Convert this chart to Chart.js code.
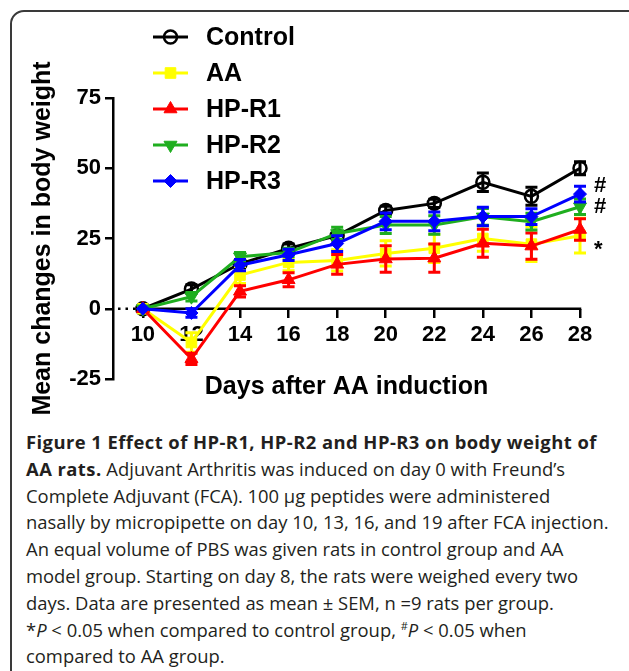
<!DOCTYPE html>
<html>
<head>
<meta charset="utf-8">
<script src="https://cdn.jsdelivr.net/npm/chart.js@4.4.1/dist/chart.umd.min.js"></script>
<style>
  html, body { margin: 0; padding: 0; background: #fff; }
  body { width: 629px; height: 671px; overflow: hidden; position: relative; }
  #frame { position: absolute; left: 10px; top: 10px; width: 700px; height: 800px; border: 2px solid #3a3a3a; border-radius: 14px; }
  #myChart { position: absolute; left: 0; top: 0; }
  #caption { position: absolute; left: 26px; top: 429px; font-family: 'Open Sans', sans-serif; font-size: 18.4px; line-height: 26.8px; color: #231f20; white-space: nowrap; }
  #caption b { font-weight: 700; letter-spacing: 0.45px; }
  #caption .hash { font-size: 11px; position: relative; top: -7px; line-height: 0; }
</style>
</head>
<body>
<div id="frame"></div>
<canvas id="myChart" width="629" height="420"></canvas>
<div id="caption">
<b>Figure 1 Effect of HP-R1, HP-R2 and HP-R3 on body weight of</b><br>
<b>AA rats.</b> Adjuvant Arthritis was induced on day 0 with Freund’s<br>
Complete Adjuvant (FCA). 100 μg peptides were administered<br>
nasally by micropipette on day 10, 13, 16, and 19 after FCA injection.<br>
An equal volume of PBS was given rats in control group and AA<br>
model group. Starting on day 8, the rats were weighed every two<br>
days. Data are presented as mean ± SEM, n =9 rats per group.<br>
*<i>P</i> &lt; 0.05 when compared to control group, <span class="hash">#</span><i>P</i> &lt; 0.05 when<br>
compared to AA group.
</div>
<script>
// data (mean change in body weight, +/- SEM)
const days = [10, 12, 14, 16, 18, 20, 22, 24, 26, 28];

const control = [0, 7, 16, 21.5, 26, 35, 37.5, 45, 40, 50];
const controlSem = [0, 1.5, 1.5, 1.5, 1.5, 1.5, 1.5, 3.3, 3.2, 2.3];

const aa = [0, -12, 12, 16.5, 17.2, 19.7, 21.5, 25, 23, 26];
const aaSem = [0, 3.5, 3, 3, 3.8, 4.5, 5, 4.5, 6.2, 6.2];

const hpR1 = [0, -17.8, 6.2, 10.3, 15.8, 17.7, 18, 23.3, 22.3, 28.2];
const hpR1Sem = [0, 2, 2, 2.5, 3.5, 4.7, 5, 5, 4.7, 3.8];

const hpR2 = [0, 4.3, 18.5, 20, 26.8, 29.8, 29.8, 32.7, 31, 36.3];
const hpR2Sem = [0, 1.5, 1.5, 1.5, 2.2, 3, 3.3, 3, 3, 2.8];

const hpR3 = [0, -1.5, 15.5, 19.2, 23.2, 31.1, 31.1, 32.8, 32.8, 40.8];
const hpR3Sem = [0, 1.5, 2, 2, 2.8, 3, 3.3, 3.3, 2.8, 2.8];

const seriesNames = ['Control', 'AA', 'HP-R1', 'HP-R2', 'HP-R3'];
const sigLabels = ['', '', '*', '#', '#'];
const yTicks = [-25, 0, 25, 50, 75];

const FONT = '"Liberation Sans", Arial, Helvetica, sans-serif';
Chart.defaults.font.family = FONT;
Chart.defaults.color = '#000';

function pts(values) {
    return days.map((d, i) => ({x: d, y: values[i]}));
}

function series(i, values, sem, color, style) {
    return Object.assign({
        label: seriesNames[i],
        data: pts(values),
        sem: sem,
        borderColor: color,
        backgroundColor: color,
        pointBackgroundColor: color,
        pointBorderColor: color,
        borderWidth: 3,
        pointBorderWidth: 1,
        pointRadius: 7,
        tension: 0,
        clip: false,
        order: 5 - i,
        sig: sigLabels[i]
    }, style);
}

// error bars, drawn under each series
const errorBars = {
    id: 'errorBars',
    beforeDatasetDraw(chart, args) {
        const ds = chart.data.datasets[args.index];
        const y = chart.scales.y;
        const c = chart.ctx;
        c.save();
        c.strokeStyle = ds.borderColor;
        c.lineWidth = 3;
        args.meta.data.forEach((pt, i) => {
            const s = ds.sem[i];
            if (!s) return;
            const v = ds.data[i].y;
            const top = y.getPixelForValue(v + s);
            const bot = y.getPixelForValue(v - s);
            c.beginPath();
            c.moveTo(pt.x, top); c.lineTo(pt.x, bot);
            c.moveTo(pt.x - 6, top); c.lineTo(pt.x + 6, top);
            c.moveTo(pt.x - 6, bot); c.lineTo(pt.x + 6, bot);
            c.stroke();
        });
        c.restore();
    }
};

// x axis sits on y = 0, dotted before the first day
const zeroAxis = {
    id: 'zeroAxis',
    beforeDatasetsDraw(chart) {
        const c = chart.ctx;
        const x = chart.scales.x, y = chart.scales.y;
        const y0 = y.getPixelForValue(0);
        const x0 = x.getPixelForValue(days[0]);
        const x1 = x.getPixelForValue(days[days.length - 1]);
        c.save();
        c.strokeStyle = '#000';
        c.lineWidth = 2.5;
        c.beginPath(); c.moveTo(x0 - 1, y0); c.lineTo(x1 + 1.25, y0); c.stroke();
        c.setLineDash([2.5, 5]);
        c.beginPath(); c.moveTo(chart.chartArea.left + 5, y0); c.lineTo(x0 - 5, y0); c.stroke();
        c.restore();
    }
};

// significance marks next to the last point
const sigMarks = {
    id: 'sigMarks',
    afterDatasetsDraw(chart) {
        const c = chart.ctx;
        c.save();
        c.fillStyle = '#000';
        c.font = 'bold 22px ' + FONT;
        c.textAlign = 'left';
        c.textBaseline = 'middle';
        chart.data.datasets.forEach((ds, i) => {
            if (!ds.sig) return;
            const meta = chart.getDatasetMeta(i);
            const p = meta.data[meta.data.length - 1];
            const dy = ds.sig === '*' ? 20 : (i === 4 ? -8 : 0);
            c.fillText(ds.sig, p.x + 14, p.y + dy);
        });
        c.restore();
    }
};

// legend in the top-left, overlapping the plot like the original
const legendBox = {
    id: 'legendBox',
    afterDraw(chart) {
        const c = chart.ctx;
        c.save();
        chart.data.datasets.forEach((ds, i) => {
            const yy = 37 + i * 36;
            c.strokeStyle = ds.borderColor;
            c.lineWidth = 3;
            c.beginPath(); c.moveTo(153, yy); c.lineTo(188, yy); c.stroke();
            c.fillStyle = ds.pointBackgroundColor;
            c.strokeStyle = ds.pointBorderColor;
            c.lineWidth = ds.pointBorderWidth;
            Chart.helpers.drawPoint(c, {
                pointStyle: ds.pointStyle,
                rotation: ds.pointRotation || 0,
                radius: ds.pointRadius,
                borderWidth: ds.pointBorderWidth
            }, 170.5, yy);
            c.fillStyle = '#000';
            c.font = 'bold 25px ' + FONT;
            c.textBaseline = 'middle';
            c.fillText(ds.label, 206, yy + 1);
        });
        c.restore();
    }
};

const ctx = document.getElementById('myChart');

new Chart(ctx, {
    type: 'line',
    data: {
        datasets: [
            series(0, control, controlSem, '#000000', {pointStyle: 'circle', pointRadius: 6.5, pointBorderWidth: 2.5, pointBackgroundColor: 'rgba(255,255,255,0)'}),
            series(1, aa, aaSem, '#ffff00', {pointStyle: 'rect', pointRadius: 7.5}),
            series(2, hpR1, hpR1Sem, '#ff0000', {pointStyle: 'triangle', pointRadius: 7.5}),
            series(3, hpR2, hpR2Sem, '#1fae1f', {pointStyle: 'triangle', pointRotation: 180, pointRadius: 7.5}),
            series(4, hpR3, hpR3Sem, '#0000ff', {pointStyle: 'rectRot', pointRadius: 6.5})
        ]
    },
    options: {
        responsive: false,
        animation: false,
        layout: {padding: {left: 0, top: 98, right: 49, bottom: 41}},
        plugins: {
            legend: {display: false},
            tooltip: {enabled: false}
        },
        scales: {
            x: {
                type: 'linear',
                position: {y: 0},
                min: 8.77,
                max: 28,
                afterBuildTicks: (scale) => {
                    scale.ticks = days.map(v => ({value: v}));
                },
                border: {display: false},
                grid: {drawOnChartArea: false, drawTicks: true, tickLength: 9, color: '#000', lineWidth: 2.5},
                ticks: {font: {size: 22, weight: 'bold'}, color: '#000', padding: 4, maxRotation: 0, autoSkip: false},
                title: {display: true, text: 'Days after AA induction', font: {size: 25, weight: 'bold'}, color: '#000', padding: {top: 20, bottom: 0}}
            },
            y: {
                min: -25,
                max: 75,
                afterFit: (scale) => { scale.width = 113; },
                afterBuildTicks: (scale) => {
                    scale.ticks = yTicks.map(v => ({value: v}));
                },
                border: {display: true, color: '#000', width: 2.5},
                grid: {drawOnChartArea: false, drawTicks: true, tickLength: 8, color: '#000', lineWidth: 2.5},
                ticks: {font: {size: 22, weight: 'bold'}, color: '#000', padding: 4},
                title: {display: true, text: 'Mean changes in body weight', font: {size: 25, weight: 'bold'}, color: '#000', padding: {top: 28, bottom: 0}}
            }
        }
    },
    plugins: [errorBars, zeroAxis, sigMarks, legendBox]
});
</script>
</body>
</html>
